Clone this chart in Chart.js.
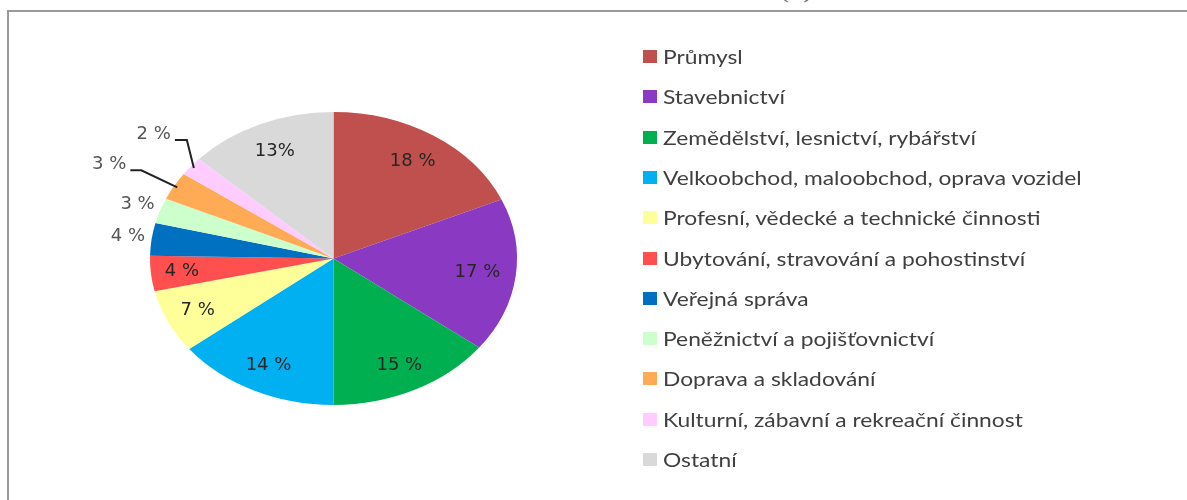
<!DOCTYPE html>
<html>
<head>
<meta charset="utf-8">
<script src="https://cdn.jsdelivr.net/npm/chart.js@4"></script>
<style>
  html, body { margin: 0; padding: 0; background: #fff; }
  #wrap { position: relative; width: 1187px; height: 500px; overflow: hidden; }
  #frame {
    position: absolute; left: 7px; top: 10px; right: -10px; bottom: -10px;
    border-top: 2px solid #9a9a9a; border-left: 2px solid #9a9a9a;
  }
  #caption {
    position: absolute; left: 780px; top: -22px; font: 22px "Liberation Serif", serif; color: #666;
    transform: scaleX(1.25); transform-origin: left;
  }
  #chart { position: absolute; left: 0; top: 0; }
  #legend { position: absolute; left: 643px; top: 0; font-family: Lato, sans-serif; font-size: 19px; color: #3f3f3f; }
  .item { position: absolute; left: 0; white-space: nowrap; height: 24px; line-height: 24px; }
  .box { position: absolute; left: 0; top: 5px; width: 14px; height: 13px; }
  .txt { position: absolute; left: 20px; top: 0; transform: scaleX(1.2); transform-origin: left; }
</style>
</head>
<body>
<div id="wrap">
  <div id="frame"></div>
  <div id="caption">(b)</div>
  <canvas id="chart" width="1187" height="500"></canvas>
  <div id="legend"></div>
</div>
<script>
// sectors, clockwise from the top
const sectors = [
  "Průmysl",
  "Stavebnictví",
  "Zemědělství, lesnictví, rybářství",
  "Velkoobchod, maloobchod, oprava vozidel",
  "Profesní, vědecké a technické činnosti",
  "Ubytování, stravování a pohostinství",
  "Veřejná správa",
  "Peněžnictví a pojišťovnictví",
  "Doprava a skladování",
  "Kulturní, zábavní a rekreační činnost",
  "Ostatní",
];
const shares = [18.4, 17.0, 14.6, 14.4, 7.0, 3.9, 3.6, 2.8, 3.1, 2.1, 13.1];
const shareLabels = ["18 %", "17 %", "15 %", "14 %", "7 %", "4 %", "4 %", "3 %", "3 %", "2 %", "13%"];
const colors = [
  "#C0504D", "#8A3AC2", "#00B050", "#00B0F0", "#FFFF99", "#FF4F4F",
  "#0070C0", "#CCFFCC", "#FFAA55", "#FFCCFF", "#D9D9D9",
];

// where each percent label sits: fraction of radius, or a leader line
const labelRadius = [0.79, 0.79, 0.81, 0.81, 0.82, 0.83, 1.13, 1.13, null, null, 0.8];
const leaders = { 8: { dx: -36, dy: -17, len: 11 }, 9: { dx: -7, dy: -28, len: 12 } };

const stretchX = 183.5 / 146.5; // the pie is drawn as an ellipse

// legend
const legendEl = document.getElementById("legend");
sectors.forEach((name, i) => {
  const row = document.createElement("div");
  row.className = "item";
  row.style.top = (57 + i * 40.3 - 12) + "px";
  row.innerHTML = '<span class="box" style="background:' + colors[i] + '"></span><span class="txt">' + name + "</span>";
  legendEl.appendChild(row);
});

const ellipsePlugin = {
  id: "ellipse",
  beforeDatasetsDraw(chart) {
    const arc = chart.getDatasetMeta(0).data[0];
    const ctx = chart.ctx;
    ctx.save();
    ctx.translate(arc.x, arc.y);
    ctx.scale(stretchX, 1);
    ctx.translate(-arc.x, -arc.y);
  },
  afterDatasetsDraw(chart) {
    const ctx = chart.ctx;
    ctx.restore();

    const arcs = chart.getDatasetMeta(0).data;
    ctx.save();
    ctx.font = "18px 'DejaVu Sans'";
    ctx.textBaseline = "middle";
    arcs.forEach((a, i) => {
      const mid = (a.startAngle + a.endAngle) / 2;
      const r = a.outerRadius;
      if (labelRadius[i] != null) {
        const f = labelRadius[i];
        ctx.textAlign = "center";
        ctx.fillStyle = f > 1 ? "#555" : "#262626";
        ctx.fillText(shareLabels[i], a.x + Math.cos(mid) * r * f * stretchX, a.y + Math.sin(mid) * r * f);
      } else {
        const l = leaders[i];
        const ex = a.x + Math.cos(mid) * r * 0.98 * stretchX;
        const ey = a.y + Math.sin(mid) * r * 0.98;
        const bx = ex + l.dx, by = ey + l.dy;
        ctx.strokeStyle = "#222";
        ctx.lineWidth = 2;
        ctx.beginPath();
        ctx.moveTo(ex, ey);
        ctx.lineTo(bx, by);
        ctx.lineTo(bx - l.len, by);
        ctx.stroke();
        ctx.textAlign = "right";
        ctx.fillStyle = "#555";
        ctx.fillText(shareLabels[i], bx - l.len - 4, by - 6);
      }
    });
    ctx.restore();
  },
};

new Chart(document.getElementById("chart"), {
  type: "pie",
  data: {
    labels: sectors,
    datasets: [
      {
        data: shares,
        backgroundColor: colors,
        borderWidth: 0,
        hoverOffset: 0,
      },
    ],
  },
  options: {
    responsive: false,
    animation: false,
    events: [],
    layout: { padding: { left: 187, top: 112, right: 707, bottom: 95 } },
    plugins: {
      legend: { display: false },
      tooltip: { enabled: false },
    },
  },
  plugins: [ellipsePlugin],
});
</script>
</body>
</html>
